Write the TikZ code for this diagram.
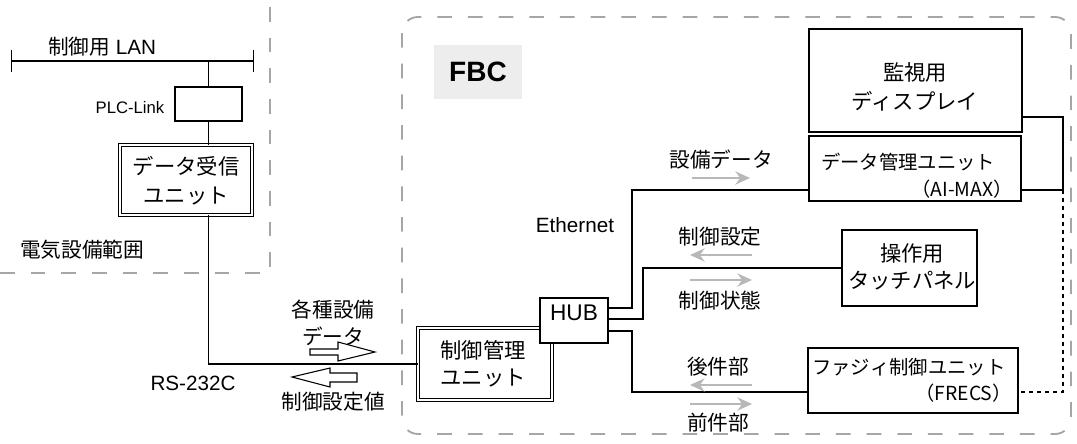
\documentclass[tikz,border=0pt]{standalone}
\usepackage{fontspec}
\setmainfont{Liberation Sans}
\newfontfamily\jp{Noto Sans CJK JP}
\usetikzlibrary{arrows.meta,fit,calc}
\tikzset{
  px/.style={x=0.75pt,y=-0.75pt},
  box/.style={draw,line width=0.8pt,inner sep=0pt,align=center,fill=white},
  dbox/.style={draw,line width=0.6pt,double,double distance=1.3pt,inner sep=0pt,align=center,fill=white},
  tbox/.style={draw,line width=2.2pt,inner sep=0pt,fill=white},
  wire/.style={line width=0.8pt},
  jl/.style={font=\jp\fontsize{15.5}{20}\selectfont,align=center,inner sep=0pt},
  jb/.style={font=\jp\fontsize{16}{20}\selectfont,inner sep=0pt},
  jm/.style={font=\jp\fontsize{14.5}{18}\selectfont,inner sep=0pt},
  ll/.style={font=\fontsize{15.5}{19}\selectfont,inner sep=0pt},
  zone/.style={draw=black!35,line width=1.4pt,dash pattern=on 11pt off 12pt},
  garrow/.style={draw=black!28,line width=1.2pt,-{Stealth[length=11pt,width=10pt]}},
  hollow/.style={draw,line width=0.8pt,fill=white},
}
\begin{document}
\begin{tikzpicture}[px]
\useasboundingbox (0,0) rectangle (1077,443);
% zones
\draw[zone] (0,273) -| (270,0);
\draw[zone,rounded corners=12pt] (402,17) rectangle (1071,434);
% FBC label
\node[fill=black!7,minimum width=66pt,minimum height=40pt] (fbcbg) at (478,72) {};
\node[font=\bfseries\fontsize{21}{24}\selectfont] (fbc) at (478,72) {FBC};
% LAN
\coordinate (lanL) at (11,61);
\coordinate (lanR) at (254,61);
\draw[wire,{Bar[width=17pt]}-{Bar[width=17pt]}] (lanL) -- (lanR);
\node[font=\fontsize{15.5}{19}\selectfont] (lanlab) at (102,47) {{\jp 制御用} LAN};
% left part
\node[box,fit={(175,87) (242,121)}] (plc) {};
\node[font=\fontsize{12.5}{15}\selectfont,anchor=east] (plclab) at (169,108) {PLC-Link};
\node[dbox,fit={(120,145) (252,215)}] (recv) {};
\node[jb] (recvt1) at (186,166) {データ受信};
\node[jb] (recvt2) at (186,196) {ユニット};
\draw[wire] (plc.north) -- (plc.north |- lanL);
\draw[wire] (plc.south) -- (plc.south |- recv.north);
\node[jl] (elec) at (82,250) {電気設備範囲};
% center units
\node[dbox,fit={(418,328) (552,400)}] (ctrl) {};
\node[jb] (ctrlt1) at (483,350) {制御管理};
\node[jb] (ctrlt2) at (483,378) {ユニット};
\node[box,fit={(540,298) (608,343)},font=\fontsize{17}{20}\selectfont] (hub) {HUB};
\draw[wire] (recv.south -| plc.south) |- (ctrl.west);
\node[ll] (rs) at (193,383) {RS-232C};
\node[jl] (kakushu) at (333,323) {各種設備\\データ};
\node[jl] (seigyochi) at (333,402) {制御設定値};
\draw[hollow] (310,349) -- (338,349) -- (338,342) -- (375,352) -- (338,361) -- (338,355) -- (310,355) -- cycle;
\draw[hollow] (357,373) -- (330,373) -- (330,368) -- (292,377) -- (330,387) -- (330,382) -- (357,382) -- cycle;
% right units
\node[box,fit={(809,29) (1022,132)}] (disp) {};
\node[jb] (dispt1) at (915,72) {監視用};
\node[jb] (dispt2) at (915,101) {ディスプレイ};
\node[tbox,fit={(809,136) (1021,201)}] (dmu) {};
\node[jm,anchor=west] (dmut1) at (821,162) {データ管理ユニット};
\node[jm,anchor=east] (dmut2) at (1013,189) {{\jp （}AI-MAX{\jp ）}};
\node[box,fit={(842,230) (977,306)}] (touch) {};
\node[jb] (toucht1) at (912,253) {操作用};
\node[jb] (toucht2) at (912,281) {タッチパネル};
\node[tbox,fit={(808,348) (1018,413)}] (frecs) {};
\node[jm,anchor=west] (frt1) at (812,367) {ファジィ制御ユニット};
\node[jm,anchor=east] (frt2) at (1012,393) {{\jp （}FRECS{\jp ）}};
% hub wires
\coordinate (h1) at (608,308);
\coordinate (h2) at (608,319);
\coordinate (h3) at (608,331);
\draw[wire] (h1) -- (632,308) |- (dmu.west |- 0,190);
\draw[wire] (h2) -- (643,319) |- (touch.west);
\draw[wire] (h3) -- (632,331) |- (frecs.west |- 0,392);
\coordinate (rj) at (1063,190);
\draw[wire] (disp.east |- 0,117) -| (rj) -- (dmu.east |- rj);
\draw[wire,dashed] (rj) |- (frecs.east |- 0,392);
\node[ll] (eth) at (575,225) {Ethernet};
% flow labels
\node[jl] (setsubi) at (721,160) {設備データ};
\draw[garrow] (692,178) -- (750,178);
\node[jl] (seigyosettei) at (720,237) {制御設定};
\draw[garrow] (752,255) -- (690,255);
\draw[garrow] (690,280) -- (752,280);
\node[jl] (seigyojotai) at (720,301) {制御状態};
\node[jl] (kouken) at (718,367) {後件部};
\draw[garrow] (752,385) -- (690,385);
\draw[garrow] (690,404) -- (752,404);
\node[jl] (zenken) at (718,423) {前件部};
\end{tikzpicture}
\end{document}
